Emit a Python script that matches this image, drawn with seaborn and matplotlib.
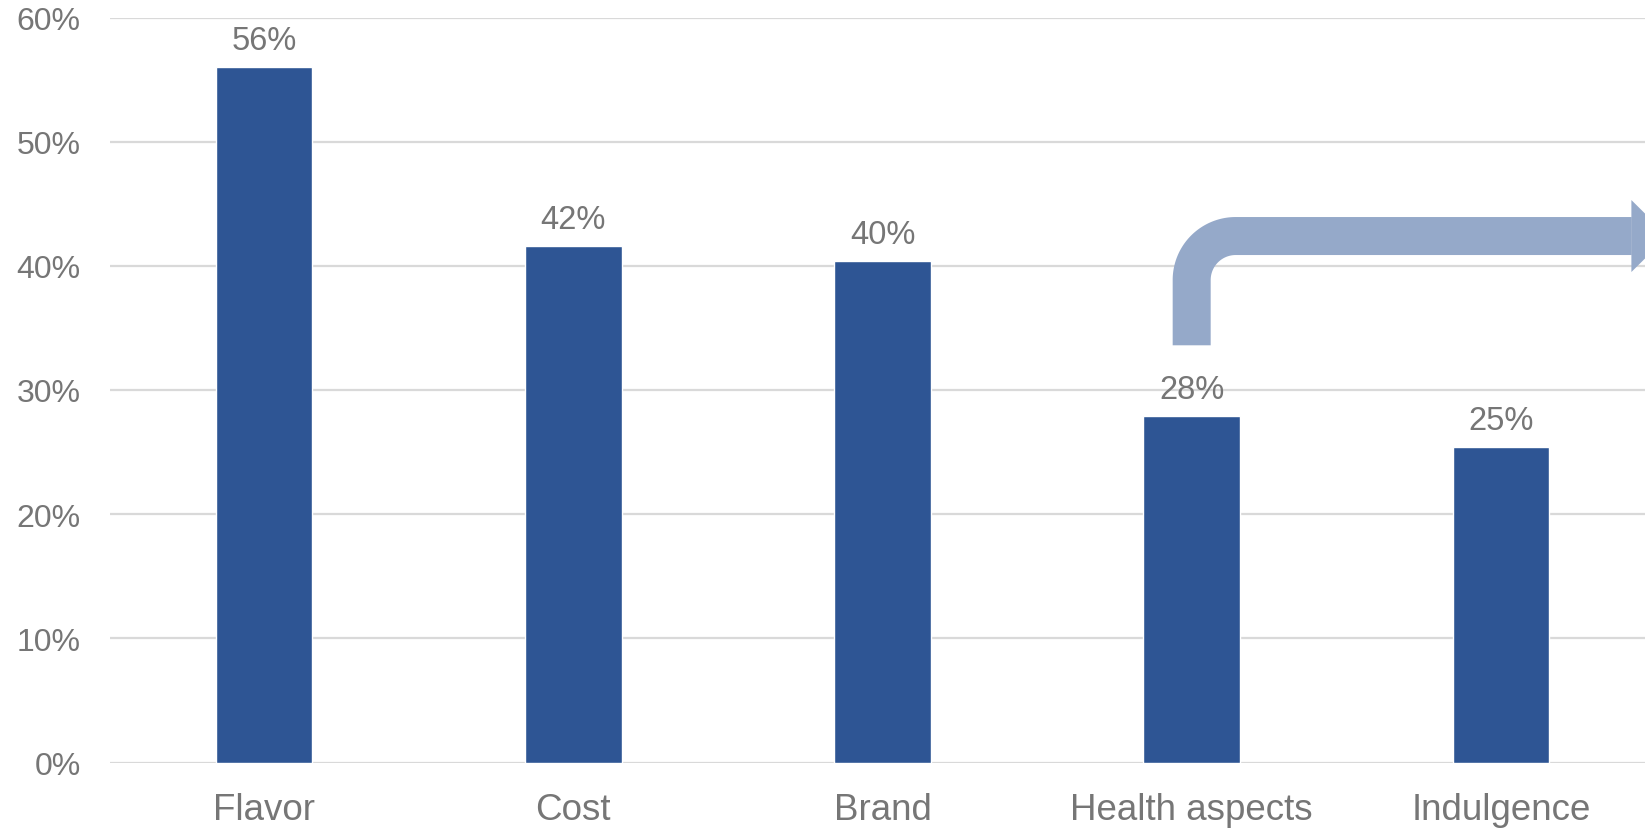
import numpy as np
import pandas as pd
import matplotlib
matplotlib.use("Agg")
import matplotlib.pyplot as plt
import seaborn as sns

categories = ["Flavor", "Cost", "Brand", "Health aspects", "Indulgence"]
values = [0.560, 0.416, 0.404, 0.279, 0.254]
yticks = [0.0, 0.1, 0.2, 0.3, 0.4, 0.5, 0.6]

BAR = "#2E5594"
ARROW = "#95A9C9"
TXT = "#767676"
GRID = "#D9D9D9"

sns.set_theme(style="white")
plt.rcParams["font.family"] = ["Liberation Sans", "DejaVu Sans"]

W, H, DPI = 16.45, 8.29, 100
fig = plt.figure(figsize=(W, H), dpi=DPI)
ax = fig.add_axes([110 / 1645, (829 - 763.5) / 829, 1535 / 1645, 745 / 829])

df = pd.DataFrame({"cat": categories, "val": values})
sns.barplot(data=df, x="cat", y="val", color=BAR, saturation=1, width=0.3125, ax=ax, zorder=3)

ax.set_xlim(-0.498, 4.466)
ax.set_ylim(0, 0.6)
ax.set_yticks(yticks)
ax.set_yticklabels([f"{t:.0%}" for t in yticks])
ax.yaxis.grid(True, color=GRID, linewidth=1.6, zorder=0)
ax.set_axisbelow(True)
for s in ax.spines.values():
    s.set_visible(False)
ax.set_xlabel("")
ax.set_ylabel("")
ax.tick_params(axis="y", length=0, pad=21, labelsize=23, labelcolor=TXT)
ax.tick_params(axis="x", length=0, pad=21, labelsize=26.5, labelcolor=TXT)

for i, v in enumerate(values):
    ax.annotate(f"{v:.0%}", (i, v), xytext=(0, 13), textcoords="offset points",
                ha="center", va="baseline", fontsize=23.5, color=TXT)

# Bent arrow from "Health aspects" to the right
xs_per_px = 1 / 309.2
ys_per_px = 0.01 / 12.42
r = 44
x0 = 3.0
y_bottom = 0.336
y_h = 0.424
x_end = 4.423
theta = np.linspace(np.pi, np.pi / 2, 60)
cx = x0 + r * xs_per_px
cy = y_h - r * ys_per_px
arc_x = cx + r * xs_per_px * np.cos(theta)
arc_y = cy + r * ys_per_px * np.sin(theta)
px = np.concatenate([[x0], arc_x, [x_end]])
py = np.concatenate([[y_bottom], arc_y, [y_h]])
ax.plot(px, py, color=ARROW, linewidth=38 * 72 / DPI, solid_capstyle="butt",
        solid_joinstyle="round", zorder=4, clip_on=True)
head_half = 36 * ys_per_px
ax.fill([x_end - 0.001, x_end - 0.001, x_end + 36 * xs_per_px],
        [y_h + head_half, y_h - head_half, y_h], color=ARROW, zorder=4, linewidth=0)

fig.savefig("out.png", dpi=DPI)
